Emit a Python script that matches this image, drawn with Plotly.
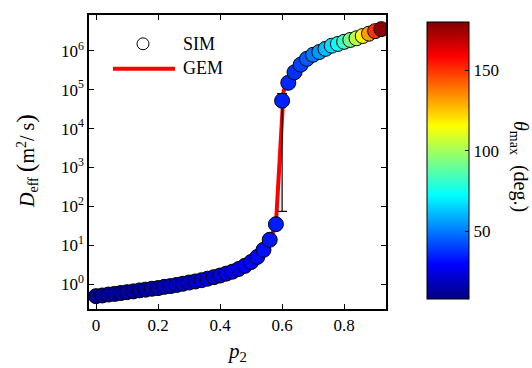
import plotly.graph_objects as go

# ---- data ----
sim_p = [0.00, 0.02, 0.04, 0.06, 0.08, 0.10, 0.12, 0.14, 0.16, 0.18,
         0.20, 0.22, 0.24, 0.26, 0.28, 0.30, 0.32, 0.34, 0.36, 0.38,
         0.40, 0.42, 0.44, 0.46, 0.48, 0.50, 0.52, 0.54, 0.56, 0.58,
         0.60, 0.62, 0.64, 0.66, 0.68, 0.70, 0.72, 0.74, 0.76, 0.78,
         0.80, 0.82, 0.84, 0.86, 0.88, 0.90, 0.92]
sim_D = [0.49, 0.51, 0.54, 0.56, 0.59, 0.62, 0.65, 0.69, 0.72, 0.76,
         0.79, 0.85, 0.89, 0.95, 1.02, 1.10, 1.17, 1.26, 1.38, 1.51,
         1.66, 1.86, 2.09, 2.45, 2.95, 3.7, 5.0, 7.6, 13.8, 34.7,
         5.2e4, 1.5e5, 2.8e5, 4.4e5, 6.2e5, 7.9e5, 9.3e5, 1.12e6, 1.35e6, 1.5e6,
         1.7e6, 1.9e6, 2.1e6, 2.4e6, 2.75e6, 3.2e6, 3.6e6]
theta_max = [12, 12, 13, 13, 14, 14, 15, 15, 16, 17,
             17, 18, 19, 19, 20, 21, 21, 22, 23, 24,
             25, 26, 27, 28, 29, 30, 31, 32, 33, 34,
             35, 36, 38, 41, 45, 50, 55, 61, 67, 74,
             82, 92, 103, 117, 132, 150, 178]

gem_p = [0.00, 0.10, 0.20, 0.30, 0.40, 0.50, 0.54, 0.56, 0.58, 0.605,
         0.62, 0.64, 0.70, 0.80, 0.92]
gem_D = [0.49, 0.62, 0.79, 1.10, 1.66, 3.7, 7.6, 13.8, 33.0, 9.5e4,
         1.6e5, 2.9e5, 7.9e5, 1.7e6, 3.6e6]

err_index = 30
err_plus = 2.7e4
err_minus = 5.1926e4

y_tickvals = [1, 10, 100, 1e3, 1e4, 1e5, 1e6]
y_ticktext = ["10<sup>0</sup>", "10<sup>1</sup>", "10<sup>2</sup>", "10<sup>3</sup>",
              "10<sup>4</sup>", "10<sup>5</sup>", "10<sup>6</sup>"]
x_tickvals = [0, 0.2, 0.4, 0.6, 0.8]
x_ticktext = ["0", "0.2", "0.4", "0.6", "0.8"]
cb_tickvals = [50, 100, 150]

FONT = "Liberation Serif"

matlab_jet = [[0.0, "rgb(0,0,128)"], [0.125, "rgb(0,0,255)"], [0.375, "rgb(0,255,255)"],
              [0.625, "rgb(255,255,0)"], [0.875, "rgb(255,0,0)"], [1.0, "rgb(128,0,0)"]]

fig = go.Figure()

fig.add_trace(go.Scatter(
    x=gem_p, y=gem_D, mode="lines",
    line=dict(color="#ff0000", width=4), showlegend=False, hoverinfo="skip"))

fig.add_trace(go.Scatter(
    x=[sim_p[err_index]], y=[sim_D[err_index]], mode="markers",
    marker=dict(size=1, color="rgba(0,0,0,0)"),
    error_y=dict(type="data", symmetric=False, array=[err_plus], arrayminus=[err_minus],
                 color="black", thickness=1.2, width=5),
    showlegend=False, hoverinfo="skip"))

fig.add_trace(go.Scatter(
    x=sim_p, y=sim_D, mode="markers",
    marker=dict(size=15, color=theta_max, colorscale=matlab_jet, cmin=8, cmax=180,
                line=dict(color="black", width=1),
                colorbar=dict(
                    x=1.104, xanchor="left", y=0.505, yanchor="middle",
                    lenmode="pixels", len=297, thickness=42,
                    outlinecolor="black", outlinewidth=1,
                    tickvals=cb_tickvals, ticks="inside", ticklen=4, tickcolor="black",
                    tickfont=dict(family=FONT, size=17, color="black"))),
    showlegend=False))

axis_common = dict(showline=True, linecolor="black", linewidth=1.5, mirror="ticks",
                   ticks="inside", ticklen=5, tickcolor="black", showgrid=False,
                   zeroline=False, tickfont=dict(family=FONT, size=17, color="black"))

fig.update_layout(
    width=532, height=368,
    margin=dict(l=89, r=146, t=13, b=59),
    paper_bgcolor="white", plot_bgcolor="white",
    font=dict(family=FONT, color="black"),
    xaxis=dict(range=[-0.0226, 0.935], tickvals=x_tickvals, ticktext=x_ticktext, **axis_common),
    yaxis=dict(type="log", range=[-0.64, 6.92], tickvals=y_tickvals, ticktext=y_ticktext,
               **axis_common),
)

# legend drawn manually
fig.add_shape(type="line", xref="paper", yref="paper",
              x0=(113 - 89) / 297, x1=(175 - 89) / 297,
              y0=(309 - 67) / 296, y1=(309 - 67) / 296,
              line=dict(color="#ff0000", width=4))
fig.add_shape(type="circle", xref="paper", yref="paper",
              x0=(137 - 89) / 297, x1=(149 - 89) / 297,
              y0=(309 - 48) / 296, y1=(309 - 36) / 296,
              line=dict(color="black", width=1))
fig.add_annotation(text="SIM", xref="paper", yref="paper",
                   x=(181 - 89) / 297, y=(309 - 42) / 296, xanchor="left", yanchor="middle",
                   showarrow=False, font=dict(family=FONT, size=18, color="black"))
fig.add_annotation(text="GEM", xref="paper", yref="paper",
                   x=(181 - 89) / 297, y=(309 - 66) / 296, xanchor="left", yanchor="middle",
                   showarrow=False, font=dict(family=FONT, size=18, color="black"))

# axis titles
fig.add_annotation(text="<i>p</i><sub>2</sub>", xref="paper", yref="paper",
                   x=(237 - 89) / 297, y=(309 - 352) / 296, xanchor="center", yanchor="middle",
                   showarrow=False, font=dict(family=FONT, size=21, color="black"))
fig.add_annotation(text="<i>D</i><sub>eff</sub> <span style='font-size:26px'>(</span>m<sup>2</sup>/ s<span style='font-size:26px'>)</span>",
                   xref="paper", yref="paper", textangle=-90,
                   x=(26 - 89) / 297, y=(309 - 160) / 296, xanchor="center", yanchor="middle",
                   showarrow=False, font=dict(family=FONT, size=20, color="black"))
fig.add_annotation(text="<i>θ</i><sub>max</sub>  (deg.)",
                   xref="paper", yref="paper", textangle=90,
                   x=(519 - 89) / 297, y=(309 - 165) / 296, xanchor="center", yanchor="middle",
                   showarrow=False, font=dict(family=FONT, size=20, color="black"))

fig.write_html("out.html")
